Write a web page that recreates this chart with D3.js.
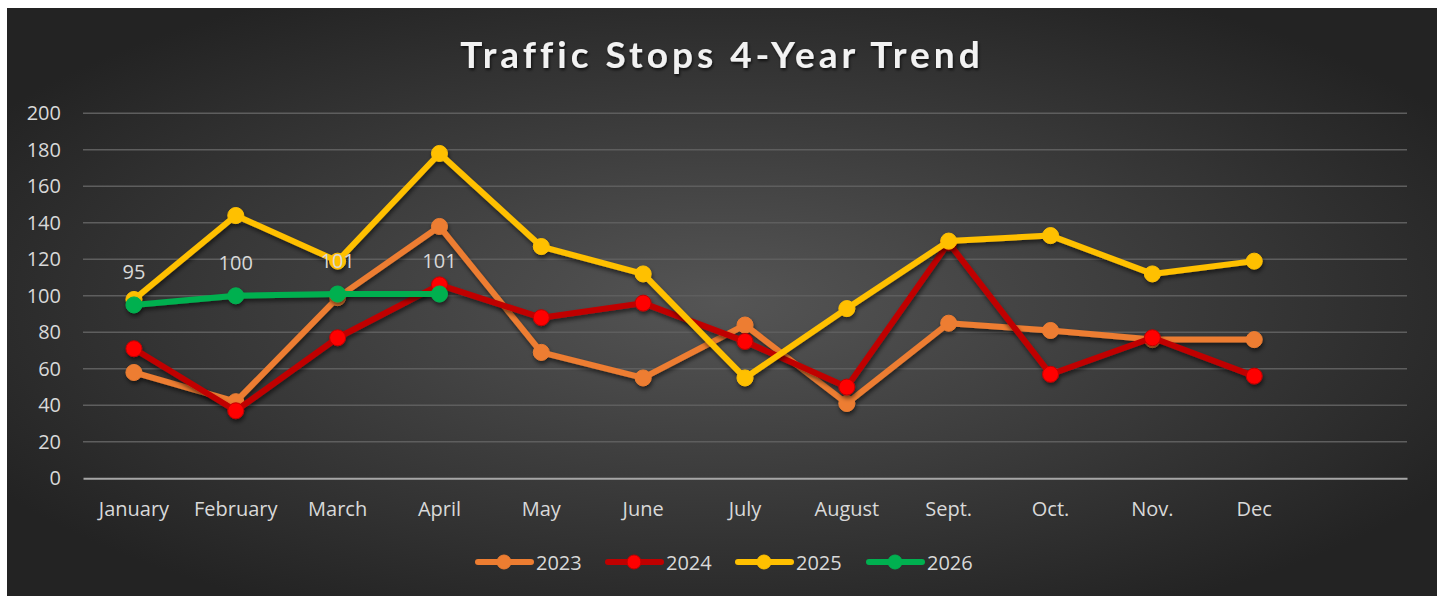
<!DOCTYPE html>
<html>
<head>
<meta charset="utf-8">
<script src="https://cdn.jsdelivr.net/npm/d3@7"></script>
<style>
  body { margin: 0; background: #fff; }
  text { font-family: "Open Sans", sans-serif; }
</style>
</head>
<body>
<svg id="chart" width="1442" height="596"></svg>
<script>
// categories (last slot is empty in the original sheet)
var months = ["January", "February", "March", "April", "May", "June", "July",
              "August", "Sept.", "Oct.", "Nov.", "Dec", ""];

var years = ["2023", "2024", "2025", "2026"];

var v2023 = [58, 42, 99, 138, 69, 55, 84, 41, 85, 81, 76, 76];
var v2024 = [71, 37, 77, 106, 88, 96, 75, 50, 129, 57, 77, 56];
var v2025 = [98, 144, 119, 178, 127, 112, 55, 93, 130, 133, 112, 119];
var v2026 = [95, 100, 101, 101];

var yTicks = [0, 20, 40, 60, 80, 100, 120, 140, 160, 180, 200];

var lineColors = ["#ED7D31", "#C00000", "#FFC000", "#00B050"],
    dotColors = ["#ED7D31", "#FF0000", "#FFC000", "#00B050"],
    dotStroke = ["#ED7D31", "#C00000", "#FFC000", "#00B050"];

var labelFont = "'Open Sans', sans-serif",
    labelSize = 20;

var svg = d3.select("#chart");

var defs = svg.append("defs");
var grad = defs.append("radialGradient")
    .attr("id", "bg")
    .attr("cx", "50%").attr("cy", "50%").attr("r", "60%");
grad.append("stop").attr("offset", "0%").attr("stop-color", "#555555");
grad.append("stop").attr("offset", "100%").attr("stop-color", "#232323");

var shadow = defs.append("filter").attr("id", "shadow")
    .attr("x", "-10%").attr("y", "-10%").attr("width", "120%").attr("height", "130%");
shadow.append("feDropShadow")
    .attr("dx", 1).attr("dy", 3).attr("stdDeviation", 2)
    .attr("flood-color", "#000").attr("flood-opacity", 0.55);

var tshadow = defs.append("filter").attr("id", "tshadow");
tshadow.append("feDropShadow")
    .attr("dx", 1).attr("dy", 2).attr("stdDeviation", 1.5)
    .attr("flood-color", "#000").attr("flood-opacity", 0.7);

svg.append("rect")
    .attr("x", 7).attr("y", 8)
    .attr("width", 1430).attr("height", 588)
    .attr("fill", "url(#bg)");

var x = d3.scaleBand().domain(months).range([83, 1407]),
    y = d3.scaleLinear().domain([0, 200]).range([478.3, 113.3]);

function cx(i) { return x(months[i]) + x.bandwidth() / 2; }

// title
svg.append("text")
    .attr("x", 722).attr("y", 68)
    .attr("text-anchor", "middle")
    .attr("fill", "#f2f2f2")
    .attr("font-size", 37)
    .attr("font-weight", "bold")
    .attr("letter-spacing", 4)
    .attr("filter", "url(#tshadow)")
    .style("font-family", "Lato, sans-serif")
    .text("Traffic Stops 4-Year Trend");

// gridlines
svg.append("g")
  .selectAll("line")
  .data(yTicks.filter(function(d) { return d > 0; }))
  .enter().append("line")
    .attr("x1", 83).attr("x2", 1407)
    .attr("y1", function(d) { return y(d); })
    .attr("y2", function(d) { return y(d); })
    .attr("stroke", "#5e5e5e")
    .attr("stroke-width", 1.5);

// y axis labels
var yAxis = svg.append("g")
    .attr("transform", "translate(70,0)")
    .call(d3.axisLeft(y).tickValues(yTicks).tickSize(0).tickPadding(9));
yAxis.select(".domain").remove();
yAxis.selectAll("text")
    .attr("fill", "#d9d9d9")
    .attr("font-size", labelSize)
    .style("font-family", labelFont);

// x axis
var xAxis = svg.append("g")
    .attr("transform", "translate(0," + y(0) + ")")
    .call(d3.axisBottom(x).tickSize(0).tickPadding(24));
xAxis.select(".domain")
    .attr("stroke", "#a6a6a6")
    .attr("stroke-width", 2);
xAxis.selectAll("text")
    .attr("fill", "#d9d9d9")
    .attr("font-size", labelSize)
    .style("font-family", labelFont);

// series
var series = [v2023, v2024, v2025, v2026];
var line = d3.line()
    .x(function(d, i) { return cx(i); })
    .y(function(d) { return y(d); });

series.forEach(function(vals, k) {
  var g = svg.append("g").attr("filter", "url(#shadow)");
  g.append("path")
      .datum(vals)
      .attr("d", line)
      .attr("fill", "none")
      .attr("stroke", lineColors[k])
      .attr("stroke-width", 6)
      .attr("stroke-linejoin", "round");
  g.selectAll("circle")
      .data(vals)
      .enter().append("circle")
      .attr("cx", function(d, i) { return cx(i); })
      .attr("cy", function(d) { return y(d); })
      .attr("r", 8)
      .attr("fill", dotColors[k])
      .attr("stroke", dotStroke[k])
      .attr("stroke-width", 1);
});

// data labels for 2026
svg.append("g")
  .selectAll("text")
  .data(v2026)
  .enter().append("text")
    .attr("x", function(d, i) { return cx(i); })
    .attr("y", function(d) { return y(d) - 26; })
    .attr("text-anchor", "middle")
    .attr("fill", "#d9d9d9")
    .attr("font-size", labelSize)
    .text(function(d) { return d; });

// legend
var legendX = [476, 606, 736, 867];
var legend = svg.append("g");
years.forEach(function(yr, k) {
  var lg = legend.append("g").attr("transform", "translate(" + legendX[k] + ",562)");
  lg.append("line")
      .attr("x1", 2).attr("x2", 55)
      .attr("stroke", lineColors[k])
      .attr("stroke-width", 6)
      .attr("stroke-linecap", "round");
  lg.append("circle")
      .attr("cx", 28).attr("r", 7)
      .attr("fill", dotColors[k])
      .attr("stroke", dotStroke[k]);
  lg.append("text")
      .attr("x", 60).attr("y", 8)
      .attr("fill", "#d9d9d9")
      .attr("font-size", labelSize)
      .text(yr);
});
</script>
</body>
</html>
